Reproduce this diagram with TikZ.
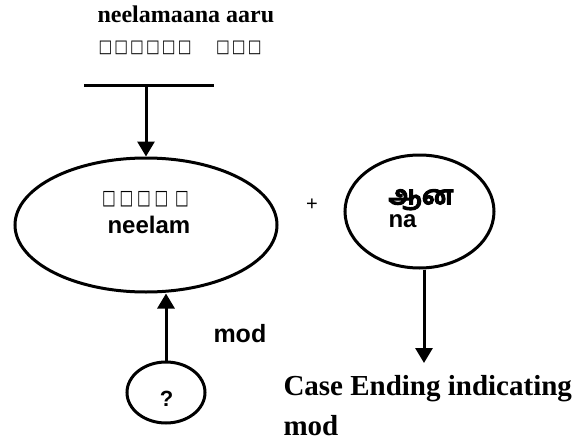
\documentclass[tikz,border=0pt]{standalone}
\usepackage{fontspec}
\usepackage{graphicx}
\setmainfont{Liberation Serif}
\setsansfont{Liberation Sans}
\newfontfamily\tofufont{DejaVu Sans}
\newfontfamily\tamilfont[Script=Tamil,FakeBold=4]{Hind Madurai}
\usetikzlibrary{shapes.geometric,arrows.meta}
\newcommand{\bxa}{\makebox[15.85pt][l]{\scalebox{1}[1.23]{□}}}
\newcommand{\bxb}{\makebox[17.5pt][l]{\scalebox{1}[1.4]{□}}}
\begin{document}
\begin{tikzpicture}[x=1pt,y=-1pt,line width=3pt,
  conn/.style={-{Triangle[width=17pt,length=15pt]}},
  oval/.style={draw,ellipse,inner sep=0pt},
  serifbig/.style={inner sep=0pt,font=\fontsize{24}{28}\selectfont\bfseries},
  serifhuge/.style={inner sep=0pt,font=\fontsize{29}{34}\selectfont\bfseries},
  sansb/.style={inner sep=0pt,font=\sffamily\bfseries\fontsize{24}{28}\selectfont},
  tofu/.style={inner sep=0pt,font=\tofufont\bfseries\fontsize{14.5}{16}\selectfont}]
\useasboundingbox (0,0) rectangle (579,447);
% title
\node[serifbig,anchor=base west] (title) at (96,23) {neelamaana aaru};
\node[tofu,anchor=west] (titletofu) at (97,48) {\bxa\bxa\bxa\bxa\bxa\bxa\hspace{22.5pt}\bxa\bxa\bxa};
% bar
\coordinate (barL) at (84,85);
\coordinate (barR) at (214,85);
\draw (barL) -- (barR);
% ellipses
\node[oval,minimum width=262pt,minimum height=134pt] (big) at (146,225) {};
\node[oval,minimum width=149pt,minimum height=113pt] (right) at (419.5,211.5) {};
\node[oval,minimum width=78pt,minimum height=61pt] (small) at (166,392.5) {};
% connectors
\draw[conn] (big.north |- barL) -- (big.north);
\draw[conn] (small.north) -- (big.south -| small.north);
\coordinate (ce) at (424,363);
\draw[conn] (right.south -| ce) -- (ce);
% texts
\node[tofu,anchor=west] (bigtofu) at (100.5,199) {\bxb\bxb\bxb\bxb\hspace{3.2pt}\bxb};
\node[sansb,anchor=base west] (neelam) at (106,233) {neelam};
\node[inner sep=0pt,font=\sffamily\fontsize{20}{24}\selectfont] (plus) at (312,205) {+};
\node[inner sep=0pt,anchor=south west,align=left,font=\sffamily\bfseries\fontsize{24}{23}\selectfont] (aana) at (387,229) {{\tamilfont\fontsize{26}{23}\selectfont ஆன}\\na};
\node[sansb,anchor=base west,font=\sffamily\bfseries\fontsize{25}{28}\selectfont] (modlbl) at (212,342) {mod};
\node[sansb,anchor=base,font=\sffamily\bfseries\fontsize{22}{26}\selectfont] (q) at (166.5,406) {?};
\node[serifhuge,anchor=base west] (case) at (282,395) {Case Ending indicating};
\node[serifhuge,anchor=base west] (mod2) at (282,435) {mod};
\end{tikzpicture}
\end{document}
